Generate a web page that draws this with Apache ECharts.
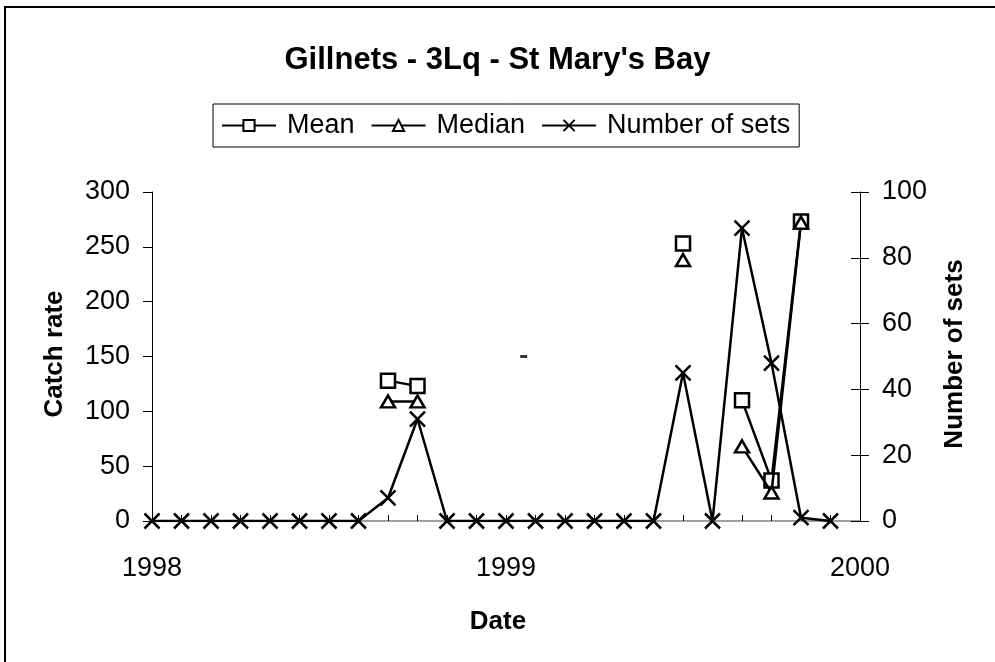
<!DOCTYPE html>
<html>
<head>
<meta charset="utf-8">
<title>Gillnets - 3Lq - St Mary's Bay</title>
<script src="https://cdn.jsdelivr.net/npm/echarts@6/dist/echarts.min.js"></script>
<style>
  html, body { margin: 0; padding: 0; background: #fff; }
  #chart { width: 995px; height: 662px; }
</style>
</head>
<body>
<div id="chart"></div>
<script>
// Monthly observations, Jan 1998 - Dec 1999
const months = [
  '1998-01','1998-02','1998-03','1998-04','1998-05','1998-06',
  '1998-07','1998-08','1998-09','1998-10','1998-11','1998-12',
  '1999-01','1999-02','1999-03','1999-04','1999-05','1999-06',
  '1999-07','1999-08','1999-09','1999-10','1999-11','1999-12'
];
// Catch rate (left axis); null = no sample that month
const meanRate = [null,null,null,null,null,null,null,null,128,123,null,null,
                  null,null,null,null,null,null,253,null,110,37,273,null];
const medianRate = [null,null,null,null,null,null,null,null,109,109,null,null,
                    null,null,null,null,null,null,238,null,68,26,272,null];
// Number of sets (right axis)
const numberOfSets = [0,0,0,0,0,0,0,0,7,31,0,0,
                      0,0,0,0,0,0,45,0,89,48,1,0];
// Lone dash mark (month offset, catch rate)
const dashMark = [[12.6, 150]];
const yearTicks = [1998, 1999, 2000];
const leftTicks = [0, 50, 100, 150, 200, 250, 300];
const rightTicks = [0, 20, 40, 60, 80, 100];

const FONT = '"Liberation Sans", Arial, sans-serif';
const startYear = yearTicks[0];

function monthOffset(ym) {
  const [y, m] = ym.split('-').map(Number);
  return (y - startYear) * 12 + (m - 1);
}
function pairs(values) {
  return months.map((ym, i) => [monthOffset(ym), values[i]]);
}

const crossPath = 'path://M0,0L10,10M10,0L0,10';

const chart = echarts.init(document.getElementById('chart'), null, { renderer: 'canvas' });

chart.setOption({
  backgroundColor: '#fff',
  animation: false,
  title: {
    text: "Gillnets - 3Lq - St Mary's Bay",
    left: 'center',
    top: 40,
    textStyle: { fontFamily: FONT, fontSize: 31, fontWeight: 'bold', color: '#000' }
  },
  legend: {
    left: 213,
    top: 104,
    orient: 'horizontal',
    data: ['Mean', 'Median', 'Number of sets'],
    itemWidth: 54,
    itemHeight: 14,
    itemGap: 16,
    padding: [8, 9, 8, 8],
    borderColor: '#000',
    borderWidth: 1,
    textStyle: { fontFamily: FONT, fontSize: 27, color: '#000', padding: [0, 0, 0, 6] }
  },
  grid: { left: 152, right: 135, top: 192, bottom: 141, containLabel: false },
  xAxis: {
    type: 'value',
    min: 0,
    max: (yearTicks[yearTicks.length - 1] - startYear) * 12,
    interval: 12,
    axisLine: { lineStyle: { color: '#808080', width: 1.5 } },
    axisTick: { show: true, inside: true, length: 6, lineStyle: { color: '#000', width: 1 } },
    minorTick: { show: true, splitNumber: 12, length: 6, lineStyle: { color: '#000', width: 1 } },
    splitLine: { show: false },
    axisLabel: {
      fontFamily: FONT, fontSize: 27, color: '#000', margin: 34,
      formatter: v => String(startYear + v / 12)
    }
  },
  yAxis: [
    {
      type: 'value', position: 'left',
      min: leftTicks[0], max: leftTicks[leftTicks.length - 1], interval: 50,
      axisLine: { show: true, lineStyle: { color: '#000', width: 1 } },
      axisTick: { show: true, length: 9, lineStyle: { color: '#000' } },
      splitLine: { show: false },
      axisLabel: { fontFamily: FONT, fontSize: 27, color: '#000', margin: 22 }
    },
    {
      type: 'value', position: 'right',
      min: rightTicks[0], max: rightTicks[rightTicks.length - 1], interval: 20,
      axisLine: { show: true, lineStyle: { color: '#000', width: 1 } },
      axisTick: { show: true, length: 9, lineStyle: { color: '#000' } },
      splitLine: { show: false },
      axisLabel: { fontFamily: FONT, fontSize: 27, color: '#000', margin: 22 }
    },
    {
      // inner half of the crossing ticks on the right axis
      type: 'value', position: 'right',
      min: rightTicks[0], max: rightTicks[rightTicks.length - 1], interval: 20,
      axisLine: { show: false },
      axisTick: { show: true, inside: true, length: 9, lineStyle: { color: '#000' } },
      splitLine: { show: false },
      axisLabel: { show: false }
    }
  ],
  series: [
    {
      name: 'Mean', type: 'line', yAxisIndex: 0,
      data: pairs(meanRate),
      connectNulls: false,
      symbol: 'rect', symbolSize: 14,
      itemStyle: { color: '#fff', borderColor: '#000', borderWidth: 2.5 },
      lineStyle: { color: '#000', width: 2.5 },
      z: 3
    },
    {
      name: 'Median', type: 'line', yAxisIndex: 0,
      data: pairs(medianRate),
      connectNulls: false,
      symbol: 'triangle', symbolSize: [14, 12],
      itemStyle: { color: '#fff', borderColor: '#000', borderWidth: 2.5 },
      lineStyle: { color: '#000', width: 2.5 },
      z: 4
    },
    {
      name: 'Number of sets', type: 'line', yAxisIndex: 1,
      data: pairs(numberOfSets),
      symbol: crossPath, symbolSize: 15,
      itemStyle: { color: 'none', borderColor: '#000', borderWidth: 2.5 },
      lineStyle: { color: '#000', width: 2.5 },
      z: 5
    },
    {
      name: 'dash', type: 'scatter', yAxisIndex: 0,
      data: dashMark,
      symbol: 'rect', symbolSize: [7, 3],
      itemStyle: { color: '#000' },
      silent: true
    }
  ],
  graphic: [
    {
      type: 'rect', silent: true,
      shape: { x: 5, y: 7, width: 1000, height: 700 },
      style: { fill: 'none', stroke: '#000', lineWidth: 2 }
    },
    {
      type: 'text', silent: true,
      x: 55, y: 354, rotation: Math.PI / 2,
      style: {
        text: 'Catch rate', fontFamily: FONT, fontSize: 26, fontWeight: 'bold',
        fill: '#000', align: 'center', verticalAlign: 'middle'
      }
    },
    {
      type: 'text', silent: true,
      x: 955, y: 354, rotation: Math.PI / 2,
      style: {
        text: 'Number of sets', fontFamily: FONT, fontSize: 26, fontWeight: 'bold',
        fill: '#000', align: 'center', verticalAlign: 'middle'
      }
    },
    {
      type: 'text', silent: true,
      x: 498, y: 622,
      style: {
        text: 'Date', fontFamily: FONT, fontSize: 26, fontWeight: 'bold',
        fill: '#000', align: 'center', verticalAlign: 'middle'
      }
    }
  ]
});
</script>
</body>
</html>
